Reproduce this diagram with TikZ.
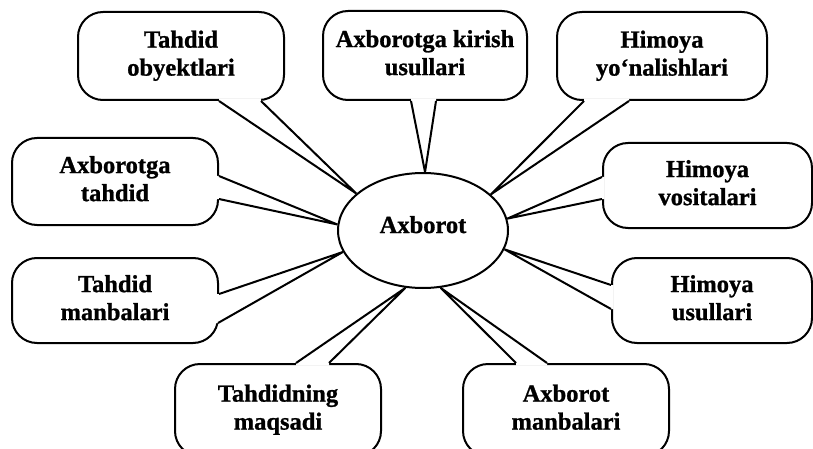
\documentclass[tikz,border=0pt]{standalone}
\usepackage{fontspec}
\setmainfont{Liberation Serif}[FakeBold=1]
\usetikzlibrary{calc,shapes.geometric}
\pgfdeclarelayer{boxes}
\pgfdeclarelayer{wedges}
\pgfsetlayers{boxes,wedges,main}
\newcommand\twoline[2]{\strut #1\\\strut #2}
\newcommand\callwedge[4]{%
  \fill[white] ($(#1)+#4$) -- (#1) -- (#3) -- (#2) -- ($(#2)+#4$) -- cycle;
  \draw[wedgeline] (#1) -- (#3) -- (#2);}
\begin{document}
\begin{tikzpicture}[x=1pt,y=-1pt,
  box/.style={draw,line width=2pt,rounded corners=25pt,fill=white,
    minimum width=206pt,minimum height=88pt,inner sep=0pt,align=center,
    font=\fontsize{24.5}{28}\selectfont\bfseries},
  wedgeline/.style={line width=2pt,line join=miter},
  hub/.style={ellipse,draw,line width=2pt,fill=white,minimum width=170pt,
    minimum height=115pt,inner sep=0pt,text height=16.7pt,text depth=11.7pt,
    font=\fontsize{24.5}{28}\selectfont\bfseries}]
\useasboundingbox (0,0) rectangle (813,449);
\node[hub] (e) at (423,230.5) {Axborot};
\begin{pgfonlayer}{boxes}
\node[box] (b1) at (181,56) {\twoline{Tahdid}{obyektlari}};
\node[box,minimum width=204pt,minimum height=89pt] (b2) at (425,55.5) {\twoline{Axborotga kirish}{usullari}};
\node[box,minimum width=210pt] (b3) at (662,56) {\twoline{Himoya}{yo‘nalishlari}};
\node[box,minimum width=209pt,minimum height=85pt] (b4) at (707.5,185.5) {\twoline{Himoya}{vositalari}};
\node[box,minimum width=200pt,minimum height=85pt] (b5) at (712,300.5) {\twoline{Himoya}{usullari}};
\node[box,minimum height=92pt] (b6) at (566,410) {\twoline{Axborot}{manbalari}};
\node[box,minimum height=92pt] (b7) at (278,410) {\twoline{Tahdidning}{maqsadi}};
\node[box,minimum height=85pt] (b8) at (115,300.5) {\twoline{Tahdid}{manbalari}};
\node[box,minimum height=87pt] (b9) at (115,181.5) {\twoline{Axborotga}{tahdid}};
\end{pgfonlayer}
\begin{pgfonlayer}{wedges}
\coordinate (w1a) at ($(b1.south west)+(142,0)$);
\coordinate (w1b) at ($(b1.south west)+(184,0)$);
\coordinate (w2a) at ($(b2.south west)+(89,0)$);
\coordinate (w2b) at ($(b2.south west)+(114,0)$);
\coordinate (w3a) at ($(b3.south west)+(28,0)$);
\coordinate (w3b) at ($(b3.south west)+(73,0)$);
\coordinate (w4a) at ($(b4.north west)+(0,35)$);
\coordinate (w4b) at ($(b4.north west)+(0,57)$);
\coordinate (w5a) at ($(b5.north west)+(0,28)$);
\coordinate (w5b) at ($(b5.north west)+(0,52)$);
\coordinate (w6a) at ($(b6.north west)+(54,0)$);
\coordinate (w6b) at ($(b6.north west)+(85,0)$);
\coordinate (w7a) at ($(b7.north west)+(122,0)$);
\coordinate (w7b) at ($(b7.north west)+(155,0)$);
\coordinate (w8a) at ($(b8.north east)+(0,37)$);
\coordinate (w8b) at ($(b8.north east)+(-1,66)$);
\coordinate (w9a) at ($(b9.north east)+(0,39)$);
\coordinate (w9b) at ($(b9.north east)+(0,62)$);
\callwedge{w1a}{w1b}{e.151.8}{(0,-2.5)}
\callwedge{w2a}{w2b}{e.88}{(0,-2.5)}
\callwedge{w3a}{w3b}{e.28.5}{(0,-2.5)}
\callwedge{w4a}{w4b}{e.8.5}{(2.5,0)}
\callwedge{w5a}{w5b}{e.-13.7}{(2.5,0)}
\callwedge{w6a}{w6b}{e.-73.5}{(0,2.5)}
\callwedge{w7a}{w7b}{e.-107.4}{(0,2.5)}
\callwedge{w8a}{w8b}{e.195.7}{(-2.5,0)}
\callwedge{w9a}{w9b}{e.176.3}{(-2.5,0)}
\end{pgfonlayer}
\end{tikzpicture}
\end{document}
